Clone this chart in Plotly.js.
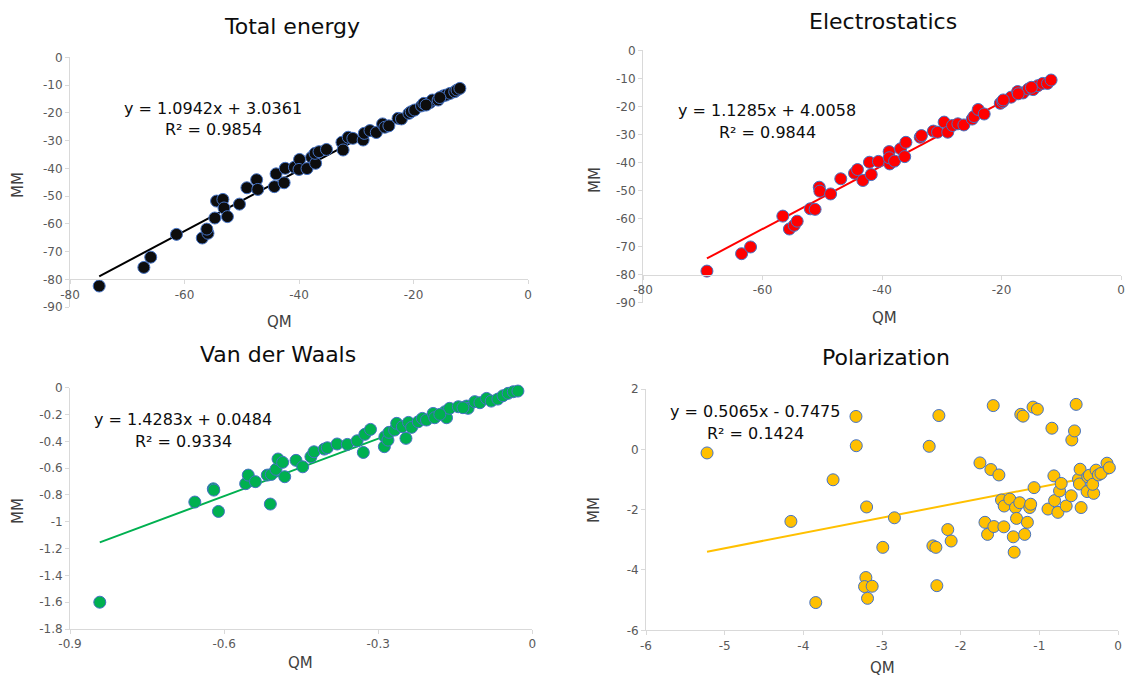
<!DOCTYPE html>
<html>
<head>
<meta charset="utf-8">
<script src="https://cdn.plot.ly/plotly-3.0.1.min.js"></script>
<style>html,body{margin:0;padding:0;background:#fff;}#chart{width:1126px;height:679px;}</style>
</head>
<body>
<div id="chart"></div>
<script>
// ---------- DATA ----------
const titles = ["Total energy", "Electrostatics", "Van der Waals", "Polarization"];

const totalQM = [-74.9,-67.1,-65.9,-61.4,-56.9,-55.9,-56.1,-54.7,-54.4,-53.3,-53.1,-52.5,-50.4,-49.1,-47.4,-47.2,-44.3,-44.0,-42.6,-42.4,-40.8,-39.9,-40.0,-38.6,-37.8,-37.1,-37.2,-36.5,-35.2,-32.5,-32.3,-31.4,-30.6,-28.8,-28.6,-27.6,-26.5,-25.4,-25.0,-24.3,-22.7,-22.1,-20.8,-20.4,-19.8,-18.6,-18.2,-17.1,-16.7,-15.7,-14.8,-14.3,-13.6,-12.8,-12.4,-11.9,-15.4,-17.8];
const totalMM = [-82.4,-75.7,-72.0,-63.8,-65.1,-63.4,-61.9,-57.9,-51.8,-51.2,-54.3,-57.4,-52.9,-47.0,-44.1,-47.6,-46.6,-42.0,-45.2,-40.0,-39.6,-36.8,-40.4,-40.1,-36.0,-38.2,-34.6,-34.0,-33.2,-30.6,-33.4,-28.8,-29.2,-29.8,-27.4,-26.4,-27.1,-24.0,-25.2,-24.7,-22.0,-22.2,-20.2,-19.6,-19.0,-17.5,-16.6,-16.3,-15.4,-15.4,-13.9,-13.6,-13.0,-12.4,-11.8,-11.2,-14.5,-17.2];

const elecQM = [-69.3,-63.5,-62.0,-56.6,-55.5,-54.7,-54.2,-52.0,-51.2,-50.5,-50.4,-48.6,-46.9,-44.6,-44.1,-43.2,-42.1,-41.8,-40.6,-38.8,-38.7,-38.8,-37.9,-36.9,-36.2,-36.0,-33.6,-33.4,-31.4,-30.7,-29.6,-29.0,-28.2,-27.3,-26.3,-24.9,-24.6,-23.9,-22.9,-20.2,-19.8,-18.4,-17.3,-16.4,-15.5,-14.7,-13.9,-13.1,-12.3,-11.7,-19.7,-17.2,-15.0];
const elecMM = [-78.7,-72.5,-70.1,-59.1,-63.7,-62.4,-60.9,-56.5,-56.7,-48.8,-50.2,-51.2,-45.8,-43.8,-42.5,-46.4,-39.9,-44.3,-39.6,-36.1,-40.5,-38.3,-39.5,-35.1,-37.9,-32.8,-31.0,-30.4,-28.8,-29.2,-25.6,-29.2,-26.8,-26.2,-26.6,-24.5,-23.6,-21.1,-22.7,-18.9,-18.3,-16.7,-14.7,-15.2,-13.8,-14.0,-12.6,-11.8,-11.8,-10.6,-17.7,-15.5,-13.2];

const vdwQM = [-0.842,-0.657,-0.621,-0.620,-0.611,-0.558,-0.553,-0.539,-0.516,-0.510,-0.508,-0.499,-0.495,-0.486,-0.482,-0.460,-0.447,-0.431,-0.425,-0.405,-0.399,-0.380,-0.360,-0.341,-0.329,-0.326,-0.315,-0.288,-0.287,-0.281,-0.279,-0.268,-0.264,-0.253,-0.246,-0.241,-0.235,-0.222,-0.214,-0.206,-0.193,-0.190,-0.170,-0.167,-0.161,-0.144,-0.128,-0.125,-0.112,-0.102,-0.089,-0.080,-0.067,-0.057,-0.047,-0.037,-0.028,-0.135,-0.180];
const vdwMM = [-1.600,-0.853,-0.754,-0.764,-0.923,-0.716,-0.652,-0.701,-0.652,-0.868,-0.647,-0.609,-0.532,-0.557,-0.664,-0.542,-0.590,-0.515,-0.478,-0.458,-0.448,-0.420,-0.423,-0.396,-0.483,-0.348,-0.311,-0.440,-0.366,-0.391,-0.333,-0.316,-0.266,-0.291,-0.378,-0.259,-0.296,-0.254,-0.229,-0.241,-0.192,-0.224,-0.179,-0.224,-0.154,-0.142,-0.137,-0.154,-0.104,-0.112,-0.080,-0.100,-0.085,-0.060,-0.042,-0.030,-0.025,-0.149,-0.199];

const polQM = [-5.224,-4.158,-3.842,-3.622,-3.331,-3.327,-3.196,-3.205,-3.222,-3.125,-3.184,-2.990,-2.842,-2.400,-2.277,-2.353,-2.315,-2.303,-2.164,-2.121,-1.755,-1.691,-1.658,-1.616,-1.586,-1.578,-1.514,-1.481,-1.447,-1.451,-1.375,-1.331,-1.320,-1.303,-1.290,-1.249,-1.236,-1.207,-1.186,-1.152,-1.122,-1.110,-1.080,-1.025,-1.067,-0.890,-0.840,-0.815,-0.806,-0.764,-0.743,-0.722,-0.659,-0.595,-0.587,-0.553,-0.532,-0.503,-0.482,-0.469,-0.490,-0.393,-0.385,-0.364,-0.309,-0.322,-0.279,-0.250,-0.216,-0.140,-0.110];
const polMM = [-0.12,-2.39,-5.08,-1.01,1.09,0.12,-1.91,-4.25,-4.55,-4.54,-4.94,-3.25,-2.27,0.10,1.12,-3.20,-3.25,-4.52,-2.66,-3.04,-0.45,-2.42,-2.82,-0.67,1.45,-2.56,-0.85,-1.68,-1.88,-2.57,-1.65,-2.90,-3.41,-1.93,-2.29,-1.77,1.16,1.10,-2.82,-2.42,-1.93,-1.82,1.40,1.33,-1.27,-1.98,0.70,-0.88,-1.70,-2.09,-1.38,-1.13,-1.88,-1.54,0.31,0.61,1.49,-0.99,-0.66,-1.93,-1.15,-1.40,-0.91,-0.86,-1.46,-1.16,-0.69,-0.85,-0.80,-0.46,-0.61];

// trendline equations as printed on the chart
const slopes = [1.0942, 1.1285, 1.4283, 0.5065];
const intercepts = [3.0361, 4.0058, 0.0484, -0.7475];
const eqTexts = ["y = 1.0942x + 3.0361", "y = 1.1285x + 4.0058", "y = 1.4283x + 0.0484", "y = 0.5065x - 0.7475"];
const r2Texts = ["R² = 0.9854", "R² = 0.9844", "R² = 0.9334", "R² = 0.1424"];

// tick labels
const tickE = [-80,-60,-40,-20,0];
const tickEtxt = ["-80","-60","-40","-20","0"];
const tickEy = [0,-10,-20,-30,-40,-50,-60,-70,-80,-90];
const tickEytxt = ["0","-10","-20","-30","-40","-50","-60","-70","-80","-90"];
const tickVx = [-0.9,-0.6,-0.3,0];
const tickVxtxt = ["-0.9","-0.6","-0.3","0"];
const tickVy = [0,-0.2,-0.4,-0.6,-0.8,-1,-1.2,-1.4,-1.6,-1.8];
const tickVytxt = ["0","-0.2","-0.4","-0.6","-0.8","-1","-1.2","-1.4","-1.6","-1.8"];
const tickPx = [-6,-5,-4,-3,-2,-1,0];
const tickPxtxt = ["-6","-5","-4","-3","-2","-1","0"];
const tickPy = [2,0,-2,-4,-6];
const tickPytxt = ["2","0","-2","-4","-6"];

// ---------- STYLE ----------
const W = 1126, H = 679;
const FONT = "DejaVu Sans, sans-serif";
const fillColors = ["#0d0d0d", "#ff0000", "#00b050", "#ffc000"];
const lineColors = ["#000000", "#ff0000", "#00b050", "#ffc000"];
const px = x => x / W;
const py = y => 1 - y / H;

const series = [[totalQM,totalMM],[elecQM,elecMM],[vdwQM,vdwMM],[polQM,polMM]];
const axSuffix = ["", "2", "3", "4"];

const traces = [];
series.forEach((s, i) => {
  const xa = "x" + axSuffix[i], ya = "y" + axSuffix[i];
  const xmin = Math.min(...s[0]), xmax = Math.max(...s[0]);
  traces.push({
    x: [xmin, xmax],
    y: [slopes[i]*xmin + intercepts[i], slopes[i]*xmax + intercepts[i]],
    mode: "lines", type: "scatter", xaxis: xa, yaxis: ya,
    line: {color: lineColors[i], width: 2}, hoverinfo: "skip", showlegend: false
  });
  traces.push({
    x: s[0], y: s[1], mode: "markers", type: "scatter", xaxis: xa, yaxis: ya,
    marker: {size: 12, color: fillColors[i], line: {color: "#4472c4", width: 1}},
    showlegend: false, cliponaxis: false
  });
});

// plot areas (pixel)
const areas = [
  {x0: 70, x1: 528, y0: 57.3, y1: 307.1},
  {x0: 643, x1: 1121, y0: 50.3, y1: 302.8},
  {x0: 70, x1: 532.3, y0: 387.7, y1: 629},
  {x0: 646, x1: 1118, y0: 389, y1: 630.3}
];

const baseAxis = {
  showgrid: false, zeroline: false, showline: true, linecolor: "#d9d9d9", linewidth: 1,
  ticks: "outside", ticklen: 4, tickcolor: "#d9d9d9", tickwidth: 1,
  tickfont: {family: FONT, size: 12, color: "#595959"}, fixedrange: true,
  ticklabeloverflow: "allow"
};

const layout = {
  width: W, height: H, margin: {l: 0, r: 0, t: 0, b: 0},
  paper_bgcolor: "#ffffff", plot_bgcolor: "#ffffff", showlegend: false,
  font: {family: FONT}, annotations: []
};

const xRanges = [[-80,0],[-80,0],[-0.9,0],[-6,0]];
const yRanges = [[-90,0],[-90,0],[-1.8,0],[-6,2]];
const xT = [[tickE,tickEtxt],[tickE,tickEtxt],[tickVx,tickVxtxt],[tickPx,tickPxtxt]];
const yT = [[tickEy,tickEytxt],[tickEy,tickEytxt],[tickVy,tickVytxt],[tickPy,tickPytxt]];

areas.forEach((a, i) => {
  const xd = [px(a.x0), Math.min(1, px(a.x1))];
  const yd = [py(a.y1), py(a.y0)];
  const xax = Object.assign({}, baseAxis, {
    domain: xd, range: xRanges[i], tickvals: xT[i][0], ticktext: xT[i][1]
  });
  if (i < 2) {
    // horizontal axis crosses at -80
    xax.anchor = "free";
    xax.position = yd[0] + (yd[1] - yd[0]) / 9;
  } else {
    xax.anchor = "y" + axSuffix[i];
  }
  const yax = Object.assign({}, baseAxis, {
    domain: yd, range: yRanges[i], tickvals: yT[i][0], ticktext: yT[i][1],
    anchor: "x" + axSuffix[i]
  });
  layout["xaxis" + axSuffix[i]] = xax;
  layout["yaxis" + axSuffix[i]] = yax;
});

// titles
const titlePos = [[292, 27], [883, 22], [278, 354], [886, 357]];
titles.forEach((t, i) => {
  layout.annotations.push({text: t, x: px(titlePos[i][0]), y: py(titlePos[i][1]), xref: "paper", yref: "paper",
    showarrow: false, xanchor: "center", yanchor: "middle", font: {family: FONT, size: 22, color: "#0d0d0d"}});
});

// axis titles
const qmPos = [[279, 322], [884, 318], [300, 663], [882, 668]];
const mmPos = [[18, 185], [595, 180], [18, 511], [594, 510]];
qmPos.forEach((p, i) => {
  layout.annotations.push({text: "QM", x: px(p[0]), y: py(p[1]), xref: "paper", yref: "paper",
    showarrow: false, xanchor: "center", yanchor: "middle", font: {family: FONT, size: 15, color: "#404040"}});
});
mmPos.forEach((p, i) => {
  layout.annotations.push({text: "MM", x: px(p[0]), y: py(p[1]), xref: "paper", yref: "paper", textangle: -90,
    showarrow: false, xanchor: "center", yanchor: "middle", font: {family: FONT, size: 15, color: "#404040"}});
});

// equations
const eqPos = [[213, 108], [767, 111], [183, 419], [755, 411]];
const r2Pos = [[213, 129.5], [767, 133], [183, 441.5], [755, 434]];
eqTexts.forEach((t, i) => {
  layout.annotations.push({text: t, x: px(eqPos[i][0]), y: py(eqPos[i][1]), xref: "paper", yref: "paper",
    showarrow: false, xanchor: "center", yanchor: "middle", font: {family: FONT, size: 16, color: "#0d0d0d"}});
  layout.annotations.push({text: r2Texts[i], x: px(r2Pos[i][0]), y: py(r2Pos[i][1]), xref: "paper", yref: "paper",
    showarrow: false, xanchor: "center", yanchor: "middle", font: {family: FONT, size: 16, color: "#0d0d0d"}});
});

Plotly.newPlot("chart", traces, layout, {staticPlot: true, displayModeBar: false});
</script>
</body>
</html>
